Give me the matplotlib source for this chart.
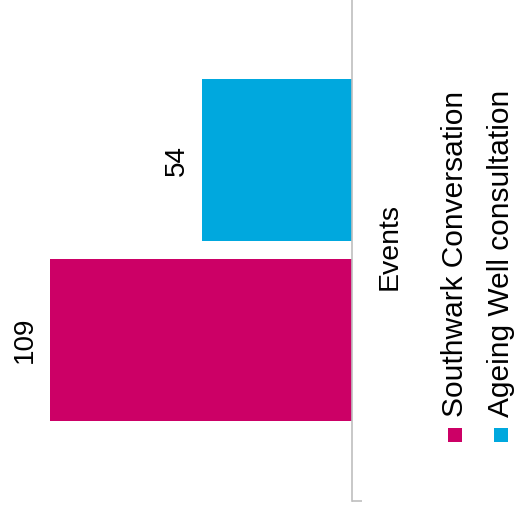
import matplotlib
matplotlib.use("Agg")
import matplotlib.pyplot as plt
import matplotlib.patches as patches

plt.rcParams['font.family'] = ['Liberation Sans', 'DejaVu Sans']

category = "Events"
series = ["Southwark Conversation", "Ageing Well consultation"]
values = [109, 54]
colors = ["#CC0066", "#00A8DE"]

W, H = 515, 511
fig = plt.figure(figsize=(W / 100, H / 100), dpi=100)
# axes: x from 0 to 352 px, y from top 0 to 501 px
ax = fig.add_axes([0, 10 / H, 352 / W, 501 / H])

offsets = [-0.178, 0.18]   # magenta lower, blue upper
bar_h = 0.323
for name, val, col, off in zip(series, values, colors, offsets):
    ax.barh(off, val, height=bar_h, color=col, label=name)
    ax.text(val + 6.6, off, str(val), rotation=90, rotation_mode='anchor',
            ha='center', va='baseline', fontsize=20, color='black')

ax.set_xlim(127, 0)
ax.set_ylim(-0.5, 0.5)
for s in ['left', 'top', 'bottom']:
    ax.spines[s].set_visible(False)
ax.spines['right'].set_color('#BFBFBF')
ax.spines['right'].set_linewidth(1.2)
ax.set_xticks([])
ax.yaxis.tick_right()
ax.set_yticks([-0.5])
ax.set_yticklabels([])
ax.tick_params(axis='y', direction='out', length=7.2, width=1.2, color='#BFBFBF')

fig.text(397 / W, (H - 246.5) / H, category, rotation=90, rotation_mode='anchor',
         ha='center', va='baseline', fontsize=20.5, color='black')

# legend drawn rotated
leg_sq = [455, 501]
leg_base = [463, 509]
for name, col, sx, bx in zip(series, colors, leg_sq, leg_base):
    fig.patches.append(patches.Rectangle(((sx - 7) / W, (H - 442) / H), 14 / W, 14 / H,
                                         transform=fig.transFigure, facecolor=col,
                                         edgecolor='none'))
    fig.text(bx / W, (H - 417) / H, name, rotation=90, rotation_mode='anchor',
             ha='left', va='baseline', fontsize=21.5, color='black')

fig.savefig("out.png", dpi=100)
